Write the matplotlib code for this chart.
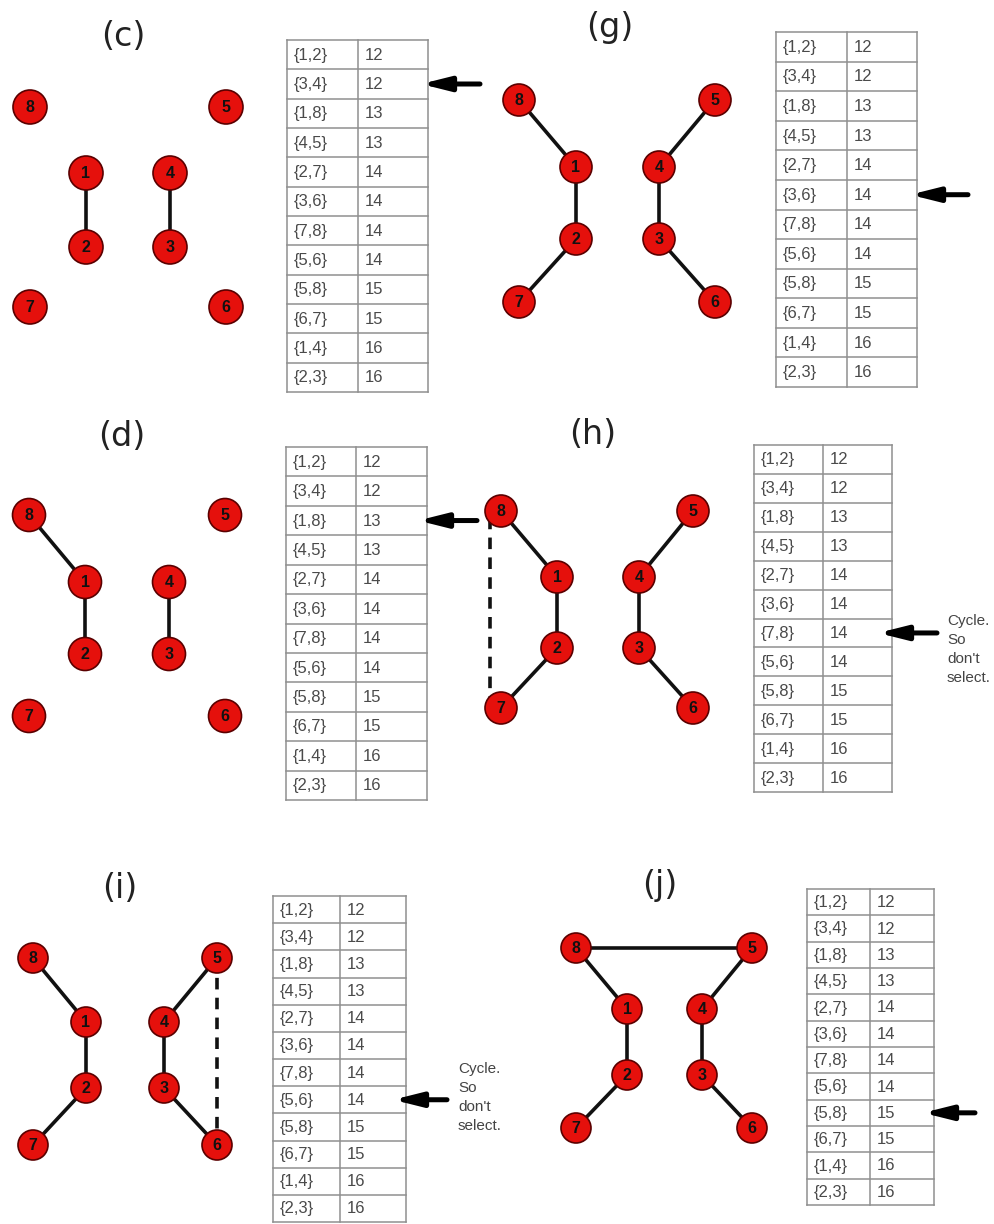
import matplotlib.pyplot as plt
from matplotlib.patches import Circle

plt.rcParams['font.family'] = ['Liberation Sans', 'DejaVu Sans']

# edge list (sorted by weight) shown in every table
edge_names = ['{1,2}', '{3,4}', '{1,8}', '{4,5}', '{2,7}', '{3,6}',
              '{7,8}', '{5,6}', '{5,8}', '{6,7}', '{1,4}', '{2,3}']
edge_weights = [12, 12, 13, 13, 14, 14, 14, 14, 15, 15, 16, 16]

# kruskal steps
panel_labels = ['(c)', '(g)', '(d)', '(h)', '(i)', '(j)']
tree_edges = [
    [(1, 2), (3, 4)],
    [(1, 2), (3, 4), (1, 8), (4, 5), (2, 7), (3, 6)],
    [(1, 2), (3, 4), (1, 8)],
    [(1, 2), (3, 4), (1, 8), (4, 5), (2, 7), (3, 6)],
    [(1, 2), (3, 4), (1, 8), (4, 5), (2, 7), (3, 6)],
    [(1, 2), (3, 4), (1, 8), (4, 5), (2, 7), (3, 6), (5, 8)],
]
cycle_edges = [None, None, None, (7, 8), (5, 6), None]
arrow_rows = [1, 5, 2, 6, 7, 8]
notes = ['', '', '', "Cycle.\nSo\ndon't\nselect.", "Cycle.\nSo\ndon't\nselect.", '']

# layout of each panel in pixels (figure is 994 x 1224)
# node grid: x = outer-left, inner-left, inner-right, outer-right ; y = outer-top, inner-top, inner-bottom, outer-bottom
layout = [
    dict(xs=(30, 86, 170, 226), ys=(107, 173, 247, 307), title=(123, 37), r=17,
         table=(287, 358, 428, 40, 392), arrow=(480, 421), note=None, dash_dx=0),
    dict(xs=(519, 576, 659, 715), ys=(100, 167, 239, 302), title=(610, 27), r=16,
         table=(776, 847, 917, 32, 387), arrow=(968, 910), note=None, dash_dx=0),
    dict(xs=(29, 85, 169, 225), ys=(515, 582, 654, 716), title=(122, 437), r=16.5,
         table=(286, 356, 427, 447, 800), arrow=(477, 418), note=None, dash_dx=0),
    dict(xs=(501, 557, 639, 693), ys=(511, 577, 648, 708), title=(593, 435), r=16,
         table=(754, 823, 892, 445, 792), arrow=(937, 878), note=(947, 614), dash_dx=-11),
    dict(xs=(33, 86, 164, 217), ys=(958, 1022, 1088, 1145), title=(120, 888), r=15,
         table=(273, 340, 406, 896, 1222), arrow=(447, 393), note=(458, 1062), dash_dx=0),
    dict(xs=(576, 627, 702, 752), ys=(948, 1009, 1075, 1128), title=(660, 885), r=15,
         table=(807, 870, 934, 889, 1205), arrow=(975, 923), note=None, dash_dx=0),
]


def node_pos(lay):
    xs, ys = lay['xs'], lay['ys']
    return {8: (xs[0], ys[0]), 5: (xs[3], ys[0]),
            1: (xs[1], ys[1]), 4: (xs[2], ys[1]),
            2: (xs[1], ys[2]), 3: (xs[2], ys[2]),
            7: (xs[0], ys[3]), 6: (xs[3], ys[3])}


fig = plt.figure(figsize=(9.94, 12.24), dpi=100)
ax = fig.add_axes([0, 0, 1, 1])
ax.set_xlim(0, 994)
ax.set_ylim(1224, 0)
ax.axis('off')

for k, lab in enumerate(panel_labels):
    lay = layout[k]
    pos = node_pos(lay)

    ax.text(*lay['title'], lab, fontsize=24, family='DejaVu Sans', ha='center', va='center',
            color='#222222')

    # selected edges
    for a, b in tree_edges[k]:
        ax.plot([pos[a][0], pos[b][0]], [pos[a][1], pos[b][1]],
                color='#111111', lw=2.6, zorder=2, solid_capstyle='butt')
    # rejected edge (would make a cycle)
    if cycle_edges[k] is not None:
        a, b = cycle_edges[k]
        dx = lay['dash_dx']
        ax.plot([pos[a][0] + dx, pos[b][0] + dx], [pos[a][1], pos[b][1]],
                color='#111111', lw=2.6, zorder=2, dashes=(3.2, 2.3))

    # nodes
    for n in pos:
        ax.add_patch(Circle(pos[n], lay['r'], facecolor='#e5100c',
                            edgecolor='#5a0000', lw=1.2, zorder=3))
        ax.text(pos[n][0], pos[n][1] + 0.5, str(n), fontsize=11.5, fontweight='bold',
                ha='center', va='center', color='#111111', zorder=4)

    # edge table
    x0, xm, x1, y0, y1 = lay['table']
    nrow = len(edge_names)
    h = (y1 - y0) / nrow
    for i in range(nrow + 1):
        ax.plot([x0, x1], [y0 + i * h, y0 + i * h], color='#8f8f8f', lw=1.1, zorder=1)
    for x in (x0, xm, x1):
        ax.plot([x, x], [y0, y1], color='#8f8f8f', lw=1.1, zorder=1)
    for i in range(nrow):
        yc = y0 + (i + 0.5) * h + 0.5
        ax.text(x0 + 7, yc, edge_names[i], fontsize=12, ha='left', va='center', color='#4a4a4a')
        ax.text(xm + 7, yc, str(edge_weights[i]), fontsize=12, ha='left', va='center', color='#4a4a4a')

    # arrow pointing at the current edge
    ya = y0 + (arrow_rows[k] + 0.5) * h
    xa0, xa1 = lay['arrow']
    ax.annotate('', xy=(xa1, ya), xytext=(xa0, ya),
                arrowprops=dict(arrowstyle='-|>,head_length=1.2,head_width=0.3',
                                lw=3.6, color='black', shrinkA=0, shrinkB=0,
                                mutation_scale=14))

    if notes[k]:
        ax.text(*lay['note'], notes[k], fontsize=11, ha='left', va='top',
                color='#444444', linespacing=1.45)

fig.savefig('out.png', dpi=100, facecolor='white')
